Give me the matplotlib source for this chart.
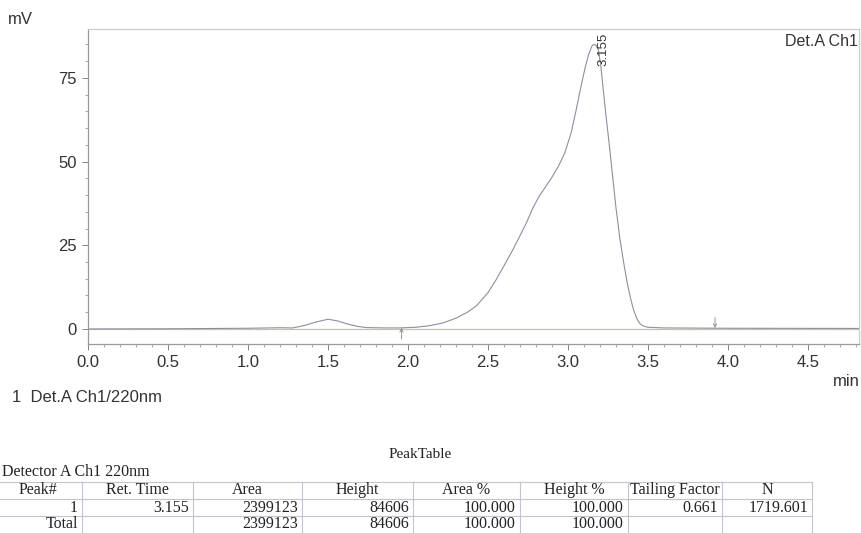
import matplotlib.pyplot as plt
from matplotlib.lines import Line2D
from matplotlib.ticker import MultipleLocator

# ---- chromatogram trace (min, mV) ----
time_min = [0.0, 0.5, 1.0, 1.2, 1.28, 1.35, 1.42, 1.50, 1.56, 1.62, 1.68, 1.74,
            1.85, 1.95, 2.05, 2.14, 2.22, 2.30, 2.38, 2.43, 2.50, 2.55, 2.60,
            2.66, 2.70, 2.74, 2.78, 2.82, 2.86, 2.90, 2.94, 2.98, 3.02, 3.05,
            3.08, 3.11, 3.13, 3.15, 3.16, 3.175, 3.19, 3.205, 3.22, 3.24, 3.26,
            3.28, 3.30, 3.325, 3.35, 3.37, 3.39, 3.41, 3.43, 3.45, 3.47, 3.50,
            3.60, 4.00, 4.82]
signal_mv = [0.0, 0.05, 0.2, 0.35, 0.3, 1.0, 2.0, 2.9, 2.4, 1.5, 0.8, 0.4,
             0.3, 0.3, 0.5, 1.0, 1.8, 3.2, 5.2, 7.0, 10.8, 14.6, 18.8,
             24.0, 27.8, 31.6, 36.0, 39.6, 42.4, 45.3, 48.5, 52.5, 58.5, 65.0,
             72.0, 78.5, 82.0, 84.5, 85.0, 84.8, 83.4, 79.0, 72.0, 63.0, 54.5,
             45.5, 36.5, 27.0, 19.5, 14.0, 9.5, 5.8, 3.2, 1.6, 0.9, 0.5,
             0.3, 0.2, 0.15]

peak_label = "3.155"
peak_label_pos = (3.22, 88.4)
start_mark = 1.96
end_mark = 3.92

# ---- peak table ----
table_title = "PeakTable"
detector = "Detector A Ch1 220nm"
headers = ["Peak#", "Ret. Time", "Area", "Height", "Area %", "Height %",
           "Tailing Factor", "N"]
row_peak = ["1", "3.155", "2399123", "84606", "100.000", "100.000", "0.661", "1719.601"]
row_total = ["Total", "", "2399123", "84606", "100.000", "100.000", "", ""]

W, H = 861, 533
fig = plt.figure(figsize=(W / 100, H / 100), dpi=100)


def fx(px):
    return px / W


def fy(py):
    return 1 - py / H


ax = fig.add_axes([fx(88), fy(344), fx(859) - fx(88), fy(29) - fy(344)])
ax.set_xlim(0, 4.82)
ax.set_ylim(-4.5, 89.6)

ax.axhline(0, color="#c4c3b0", lw=0.9, zorder=1)
ax.plot(time_min, signal_mv, color="#8a90a0", lw=0.8, zorder=2)

ax.text(peak_label_pos[0], peak_label_pos[1], peak_label, rotation=90,
        ha="center", va="top", fontsize=9.5, family="Liberation Sans", color="#333333")
ax.annotate("", xy=(start_mark, 0.3), xytext=(start_mark, -3.0),
            arrowprops=dict(arrowstyle="->", color="#888888", lw=0.6,
                            mutation_scale=6, shrinkA=0, shrinkB=0))
ax.annotate("", xy=(end_mark, 0.3), xytext=(end_mark, 3.4),
            arrowprops=dict(arrowstyle="->", color="#888888", lw=0.6,
                            mutation_scale=6, shrinkA=0, shrinkB=0))
ax.text(0.998, 0.985, "Det.A Ch1", transform=ax.transAxes, ha="right", va="top",
        fontsize=11.5, family="Liberation Sans", color="#333333")

for side in ["top", "right"]:
    ax.spines[side].set_color("#cccccc")
    ax.spines[side].set_linewidth(0.9)
for side in ["left", "bottom"]:
    ax.spines[side].set_color("#9a9a9a")
    ax.spines[side].set_linewidth(0.9)

ax.xaxis.set_major_locator(MultipleLocator(0.5))
ax.xaxis.set_minor_locator(MultipleLocator(0.1))
ax.yaxis.set_major_locator(MultipleLocator(25))
ax.yaxis.set_minor_locator(MultipleLocator(5))
ax.set_xticks([0.0, 0.5, 1.0, 1.5, 2.0, 2.5, 3.0, 3.5, 4.0, 4.5])
ax.set_xticklabels(["0.0", "0.5", "1.0", "1.5", "2.0", "2.5", "3.0", "3.5", "4.0", "4.5"])
ax.set_yticks([0, 25, 50, 75])
ax.tick_params(which="major", length=4.2, width=0.7, color="#888888",
               labelsize=12, labelcolor="#333333", pad=4)
ax.tick_params(which="minor", length=2.2, width=0.6, color="#999999")
for lab in ax.get_xticklabels() + ax.get_yticklabels():
    lab.set_family("Liberation Sans")

fig.text(fx(8), fy(20), "mV", ha="left", va="center", fontsize=12,
         family="Liberation Sans", color="#333333")
fig.text(fx(860), fy(381), "min", ha="right", va="center", fontsize=12,
         family="Liberation Sans", color="#333333")
fig.text(fx(12), fy(397), "1  Det.A Ch1/220nm", ha="left", va="center", fontsize=12,
         family="Liberation Sans", color="#333333")

# ---- table drawing ----
serif = "Liberation Serif"
fig.text(fx(420), fy(455), table_title, ha="center", va="center", fontsize=11,
         family=serif, color="#222222")
fig.text(fx(2), fy(472), detector, ha="left", va="center", fontsize=11.5,
         family=serif, color="#222222")

col_edges = [-28, 82, 193, 302, 413, 520, 628, 722, 812]
row_lines = [482, 499, 516]
line_col = "#c4c4d0"
for yl in row_lines:
    fig.add_artist(Line2D([fx(-28), fx(812)], [fy(yl), fy(yl)],
                          color=line_col, lw=0.8, transform=fig.transFigure))
for xe in col_edges[1:]:
    fig.add_artist(Line2D([fx(xe), fx(xe)], [fy(482), fy(533)],
                          color=line_col, lw=0.8, transform=fig.transFigure))

row_centers = [490.5, 507.5, 524.5]
for i, h in enumerate(headers):
    xc = (col_edges[i] + col_edges[i + 1]) / 2
    if i == 0:
        xc = 38
    fig.text(fx(xc), fy(row_centers[0]), h, ha="center", va="center",
             fontsize=11.5, family=serif, color="#222222")
for r, row in enumerate([row_peak, row_total]):
    for i, v in enumerate(row):
        if not v:
            continue
        fig.text(fx(col_edges[i + 1] - 4), fy(row_centers[r + 1]), v, ha="right",
                 va="center", fontsize=11.5, family=serif, color="#222222")

fig.savefig("out.png", dpi=100, facecolor="white")
